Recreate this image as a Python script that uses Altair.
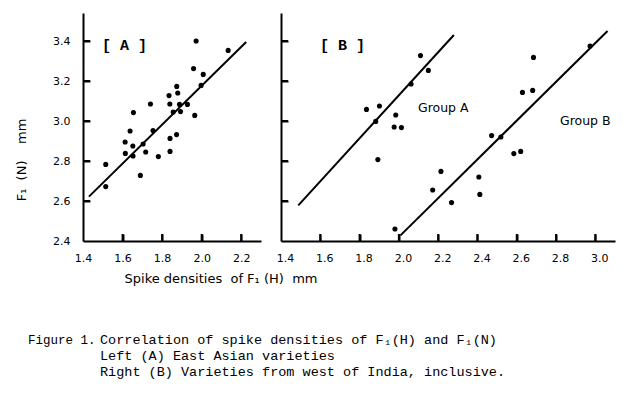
import altair as alt
import pandas as pd

# ---------------- data ----------------
# Panel A : East Asian varieties
a_x = [1.515, 1.515, 1.613, 1.614, 1.638, 1.652, 1.653, 1.655, 1.690, 1.704,
       1.717, 1.741, 1.754, 1.781, 1.835, 1.839, 1.840, 1.840, 1.856, 1.874,
       1.879, 1.873, 1.888, 1.893, 1.928, 1.959, 1.972, 1.965, 1.997, 2.008, 2.134]
a_y = [2.783, 2.672, 2.895, 2.838, 2.950, 2.875, 2.825, 3.042, 2.728, 2.885,
       2.845, 3.085, 2.952, 2.822, 3.127, 3.085, 2.913, 2.848, 3.045, 3.173,
       3.140, 2.932, 3.083, 3.047, 3.083, 3.262, 3.400, 3.028, 3.178, 3.233, 3.353]
a_line_x = [1.43, 2.225]
a_line_y = [2.622, 3.395]

# Panel B : varieties from west of India
bA_x = [1.835, 1.901, 1.882, 1.893, 1.984, 1.976, 2.013, 2.062, 2.110, 2.150]
bA_y = [3.058, 3.075, 2.998, 2.807, 3.030, 2.970, 2.967, 3.185, 3.327, 3.253]
bB_x = [1.980, 2.172, 2.214, 2.268, 2.407, 2.412, 2.472, 2.519, 2.585, 2.620,
        2.629, 2.681, 2.685, 2.973]
bB_y = [2.460, 2.655, 2.748, 2.592, 2.720, 2.633, 2.927, 2.920, 2.837, 2.848,
        3.143, 3.153, 3.318, 3.375]
bA_line_x = [1.488, 2.28]
bA_line_y = [2.578, 3.43]
bB_line_x = [2.008, 3.062]
bB_line_y = [2.428, 3.45]

a_xticks = [1.4, 1.6, 1.8, 2.0, 2.2]
b_xticks = [1.4, 1.6, 1.8, 2.0, 2.2, 2.4, 2.6, 2.8, 3.0]
yticks = [2.4, 2.6, 2.8, 3.0, 3.2, 3.4]

NB = "\u00a0"
x_title = "Spike densities" + NB * 2 + "of F\u2081 (H)" + NB * 2 + "mm"
y_title = "F\u2081" + NB * 2 + "(N)" + NB * 4 + "mm"
caption_head = "Figure 1."
caption_lines = [
    "Correlation of spike densities of F\u2081(H) and F\u2081(N)",
    "Left (A) East Asian varieties",
    "Right (B) Varieties from west of India, inclusive.",
]

# ---------------- layout ----------------
W = 532          # whole plotting strip (both panels)
H = 228
WA = 178         # panel A width
BX0 = 198        # panel B left edge
YDOM = [2.4, 3.54]
LFONT = "DejaVu Sans"
MONO = "Liberation Mono"
TICK = 7

xsA = alt.Scale(domain=[1.4, 2.3], range=[0, WA], nice=False, zero=False)
xsB = alt.Scale(domain=[1.4, 3.1], range=[BX0, W], nice=False, zero=False)
ys = alt.Scale(domain=YDOM, nice=False, zero=False)


def df(x, y):
    return pd.DataFrame({"x": x, "y": y})


axA_x = alt.Axis(values=a_xticks, format=".1f", orient="bottom", ticks=False,
                 domainColor="black", domainWidth=2, grid=False,
                 labelFont=LFONT, labelFontSize=11, labelColor="black",
                 labelPadding=11, labelFlush=False, labelOverlap=False, title=None)
axB_x = alt.Axis(values=b_xticks, format=".1f", orient="bottom", ticks=False,
                 domainColor="black", domainWidth=2, grid=False,
                 labelFont=LFONT, labelFontSize=11, labelColor="black",
                 labelPadding=11, labelOffset=4, labelFlush=False,
                 labelOverlap=False, title=None)
axA_y = alt.Axis(values=yticks, format=".1f", orient="left", ticks=False,
                 domainColor="black", domainWidth=2, grid=False,
                 labelFont=LFONT, labelFontSize=11, labelColor="black",
                 labelPadding=13, labelFlush=False, labelOverlap=False, title=None)
axB_y = alt.Axis(values=yticks, orient="left", offset=-BX0, labels=False,
                 ticks=False, domainColor="black", domainWidth=2, grid=False,
                 title=None)


def tick_axis(vals, orient, offset):
    # inward-pointing tick marks only (no labels, no domain line)
    return alt.Axis(values=vals, orient=orient, offset=offset, labels=False,
                    domain=False, grid=False, ticks=True, tickSize=TICK,
                    tickWidth=2, tickColor="black", title=None)


def line(x, y, xs, xaxis=None, yaxis=None):
    return alt.Chart(df(x, y)).mark_line(color="black", strokeWidth=2).encode(
        x=alt.X("x:Q", scale=xs, axis=xaxis),
        y=alt.Y("y:Q", scale=ys, axis=yaxis))


def pts(x, y, xs):
    return alt.Chart(df(x, y)).mark_circle(size=26, color="black", opacity=1).encode(
        x=alt.X("x:Q", scale=xs, axis=None),
        y=alt.Y("y:Q", scale=ys, axis=None))


def xticks_layer(vals, xs):
    return alt.Chart(pd.DataFrame({"tv": vals[1:]})).mark_tick(
        orient="vertical", size=TICK, thickness=2, color="black", opacity=1).encode(
        x=alt.X("tv:Q", scale=xs, axis=tick_axis(vals[1:], "top", -H)),
        y=alt.value(H - TICK / 2))


def yticks_layer(x0):
    return alt.Chart(pd.DataFrame({"tv": yticks[1:]})).mark_tick(
        orient="horizontal", size=TICK, thickness=2, color="black", opacity=1).encode(
        y=alt.Y("tv:Q", scale=ys, axis=tick_axis(yticks[1:], "right", -(W - x0))),
        x=alt.value(x0 + TICK / 2))


def label(text, x, y, font, size, align="left", weight="normal", angle=0):
    return alt.Chart(pd.DataFrame({"t": [text]})).mark_text(
        font=font, fontSize=size, align=align, baseline="middle",
        color="black", fontWeight=weight, angle=angle).encode(
        text="t:N", x=alt.value(x), y=alt.value(y))


layers = [
    line(a_line_x, a_line_y, xsA, axA_x, axA_y),
    line(bA_line_x, bA_line_y, xsB, axB_x, axB_y),
    line(bB_line_x, bB_line_y, xsB),
    xticks_layer(a_xticks, xsA),
    xticks_layer(b_xticks, xsB),
    yticks_layer(0),
    yticks_layer(BX0),
    pts(a_x, a_y, xsA),
    pts(bA_x, bA_y, xsB),
    pts(bB_x, bB_y, xsB),
    label("[ A ]", 19, 32, MONO, 15, weight="bold"),
    label("[ B ]", BX0 + 39, 32, MONO, 15, weight="bold"),
    label("Group A", BX0 + 137, 95, LFONT, 12.5),
    label("Group B", BX0 + 279, 108, LFONT, 12.5),
    label(x_title, 138, 266, LFONT, 13, align="center"),
    label(y_title, -61, 147, LFONT, 13, align="center", angle=270),
    label(caption_head, -55, 327, MONO, 12.5),
    label(caption_lines[0], 17, 327, MONO, 13.5),
    label(caption_lines[1], 17, 343, MONO, 13.5),
    label(caption_lines[2], 17, 359, MONO, 13.5),
]

chart = alt.layer(*layers).resolve_scale(x="independent", y="independent").properties(
    width=W, height=H,
    autosize=alt.AutoSizeParams(type="none"),
    padding={"left": 75, "top": 5, "right": 8, "bottom": 146},
    background="white",
).configure_view(stroke=None)

chart.save("out.html", embed_options={"renderer": "svg", "actions": False})
